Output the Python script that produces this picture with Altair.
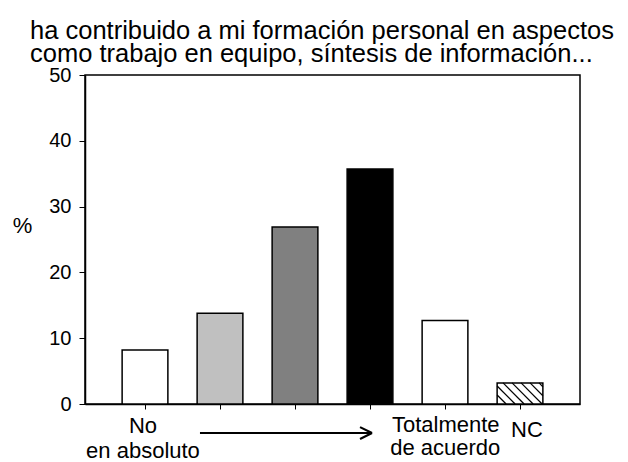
import altair as alt
import pandas as pd

# ---- data ----
positions = [1, 2, 3, 4, 5, 6]
values = [8.2, 13.8, 26.9, 35.7, 12.7, 3.2]
fills = ["#ffffff", "#c0c0c0", "#808080", "#000000", "#ffffff", "#ffffff"]
y_ticks = [0, 10, 20, 30, 40, 50]
title_lines = ["ha contribuido a mi formación personal en aspectos",
               "como trabajo en equipo, síntesis de información..."]
ann_text = ["No", "en absoluto", "Totalmente", "de acuerdo", "NC"]
ann_x = [0.973, 0.973, 4.293, 4.27, 6.093]
ann_y = [-4.41, -8.2, -4.26, -7.75, -5.02]
ann_align = ["center", "center", "left", "left", "center"]

FONT = "Liberation Sans"
W, H = 495, 329
XDOM = [0.2, 6.8]
YDOM = [0, 50]
HALF = 0.305

bars = pd.DataFrame({
    "pos": positions,
    "x0": [p - HALF for p in positions],
    "x1": [p + HALF for p in positions],
    "val": values,
    "zero": [0] * len(values),
    "fill": fills,
})

# hatch lines for the "NC" bar (diagonal, top-left to bottom-right)
pxx = W / (XDOM[1] - XDOM[0])
pxy = H / (YDOM[1] - YDOM[0])
nc = bars.iloc[-1]
xl, xr = (nc.x0 - XDOM[0]) * pxx, (nc.x1 - XDOM[0]) * pxx
hh = nc.val * pxy
segs = []
c = xl - hh
while c < xr:
    a = max(xl, c)
    b = min(xr, c + hh)
    if b > a:
        ya, yb = a - c, b - c
        segs.append({
            "x": a / pxx + XDOM[0], "x2": b / pxx + XDOM[0],
            "y": nc.val - ya / pxy, "y2": nc.val - yb / pxy,
        })
    c += 9
hatch = pd.DataFrame(segs)

xs = alt.Scale(domain=XDOM, nice=False, zero=False)
ys = alt.Scale(domain=YDOM, nice=False)

base_bar = alt.Chart(bars).mark_bar(stroke="black", strokeWidth=1.5).encode(
    x=alt.X("x0:Q", scale=xs,
            axis=alt.Axis(values=positions, labels=False, title=None, grid=False,
                          domainColor="black", tickColor="black", tickSize=5,
                          domainWidth=1.5, tickWidth=1)),
    x2="x1:Q",
    y=alt.Y("val:Q", scale=ys,
            axis=alt.Axis(values=y_ticks, grid=False, title="%", titleAngle=0,
                          titleX=-63, titleY=150, titleAlign="center",
                          titleBaseline="middle", titleFont=FONT, titleFontSize=22,
                          titleFontWeight="normal", titleColor="black",
                          labelFont=FONT, labelFontSize=20, labelColor="black",
                          labelPadding=8, tickSize=6, tickColor="black",
                          domainColor="black", domainWidth=1.5)),
    y2="zero:Q",
    fill=alt.Fill("fill:N", scale=None),
)

hatch_layer = alt.Chart(hatch).mark_rule(color="black", strokeWidth=1.2).encode(
    x="x:Q", x2="x2:Q", y="y:Q", y2="y2:Q")

arrow_df = pd.DataFrame({
    "x": [1.733, 3.867, 3.867],
    "x2": [4.027, 4.027, 4.027],
    "y": [-4.41, -3.5, -5.32],
    "y2": [-4.41, -4.41, -4.41],
})
arrow = alt.Chart(arrow_df).mark_rule(color="black", strokeWidth=2).encode(
    x="x:Q", x2="x2:Q", y="y:Q", y2="y2:Q")

ann = pd.DataFrame({"t": ann_text, "x": ann_x, "y": ann_y, "al": ann_align})
texts = []
for al in ["center", "left"]:
    texts.append(alt.Chart(ann[ann.al == al]).mark_text(
        align=al, baseline="alphabetic", font=FONT, fontSize=22, color="black"
    ).encode(x="x:Q", y="y:Q", text="t:N"))

chart = alt.layer(base_bar, hatch_layer, arrow, *texts).properties(
    width=W, height=H,
    autosize=alt.AutoSizeParams(type="none"),
    padding={"left": 77, "top": 67, "right": 40, "bottom": 54},
    title=alt.TitleParams(text=title_lines, anchor="start", frame="group", dx=-55,
                          font=FONT, fontSize=25.5, fontWeight="normal", color="black",
                          lineHeight=23, offset=-27, baseline="bottom"),
).configure_view(stroke="black", strokeWidth=1.5)

chart.save("out.html", embed_options={"renderer": "svg", "actions": False})
